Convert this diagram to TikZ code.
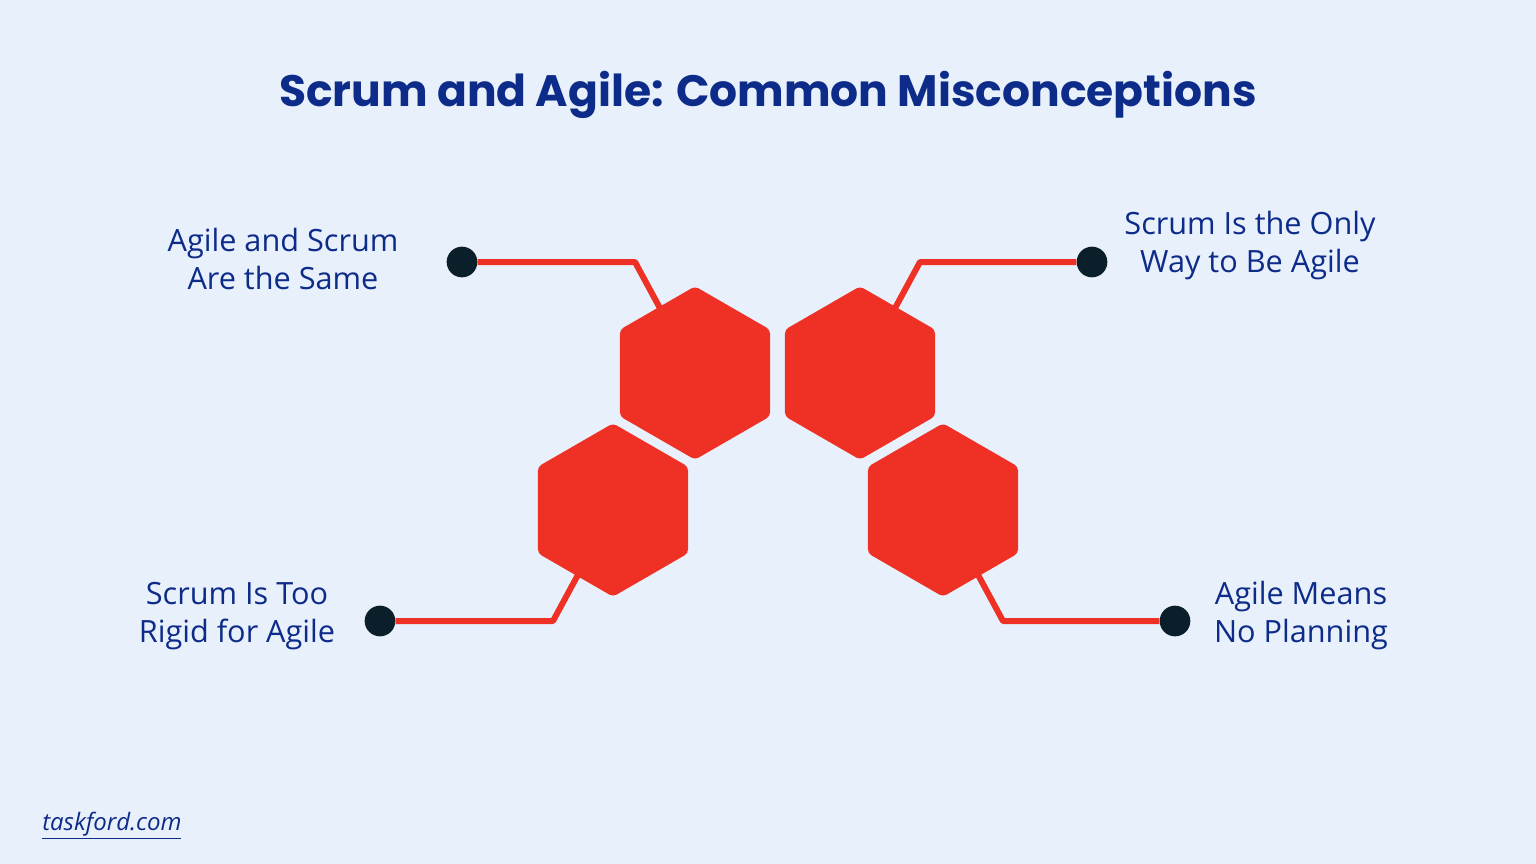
\documentclass[tikz,border=0pt]{standalone}
\usepackage{fontspec}
\setmainfont{Open Sans}
\newfontfamily\titlefont{Poppins}
\usetikzlibrary{shapes.geometric}
\definecolor{bgblue}{HTML}{E8F0FC}
\definecolor{hexred}{HTML}{EE3124}
\definecolor{navy}{HTML}{0D2B88}
\definecolor{dotdark}{HTML}{0B1F2A}
\tikzset{
  hexcell/.style={regular polygon, regular polygon sides=6, shape border rotate=30, minimum size=130pt, inner sep=0pt, fill=hexred, rounded corners=3pt},
  redlink/.style={draw=hexred, line width=4.5pt, line join=round},
  enddot/.style={circle, fill=dotdark, minimum size=23pt, inner sep=0pt},
  misc/.style={text=navy, align=center, font=\fontsize{23}{28.5}\selectfont},
}
\begin{document}
\begin{tikzpicture}[x=0.75pt,y=0.75pt,yscale=-1]
        \fill[bgblue] (0,0) rectangle (1536,864);
        \useasboundingbox (0,0) rectangle (1536,864);

        % Title
        \node (title) at (768,95) [text=navy, font=\titlefont\bfseries\fontsize{33}{40}\selectfont] {Scrum and Agile: Common Misconceptions};

        % hexagon centres
        \coordinate (c1) at (695,373);
        \coordinate (c2) at (860,373);
        \coordinate (c3) at (613,510);
        \coordinate (c4) at (943,510);

        % end dots and bends
        \coordinate (b1) at (635,262);
        \coordinate (b2) at (920,262);
        \coordinate (b3) at (553,621);
        \coordinate (b4) at (1003,621);
        \node (d1) at (462,262) [enddot] {};
        \node (d2) at (1092,262) [enddot] {};
        \node (d3) at (380,621) [enddot] {};
        \node (d4) at (1175,621) [enddot] {};

        % links
        \draw[redlink] (d1) -- (b1) -- (c1);
        \draw[redlink] (d2) -- (b2) -- (c2);
        \draw[redlink] (d3) -- (b3) -- (c3);
        \draw[redlink] (d4) -- (b4) -- (c4);

        % hexagons
        \node (h1) at (c1) [hexcell] {};
        \node (h2) at (c2) [hexcell] {};
        \node (h3) at (c3) [hexcell] {};
        \node (h4) at (c4) [hexcell] {};

        % labels
        \node (l1) at (283,259) [misc] {Agile and Scrum\\Are the Same};
        \node (l2) at (1250,246) [misc] {Scrum Is the Only\\Way to Be Agile};
        \node (l3) at (237,616) [misc] {Scrum Is Too\\Rigid for Agile};
        \node (l4) at (1301,616) [misc] {Agile Means\\No Planning};

        \node (site) at (42,826) [anchor=west, inner sep=0pt, text=navy, font=\itshape\fontsize{18}{20}\selectfont] {\underline{taskford.com}};
\end{tikzpicture}
\end{document}
